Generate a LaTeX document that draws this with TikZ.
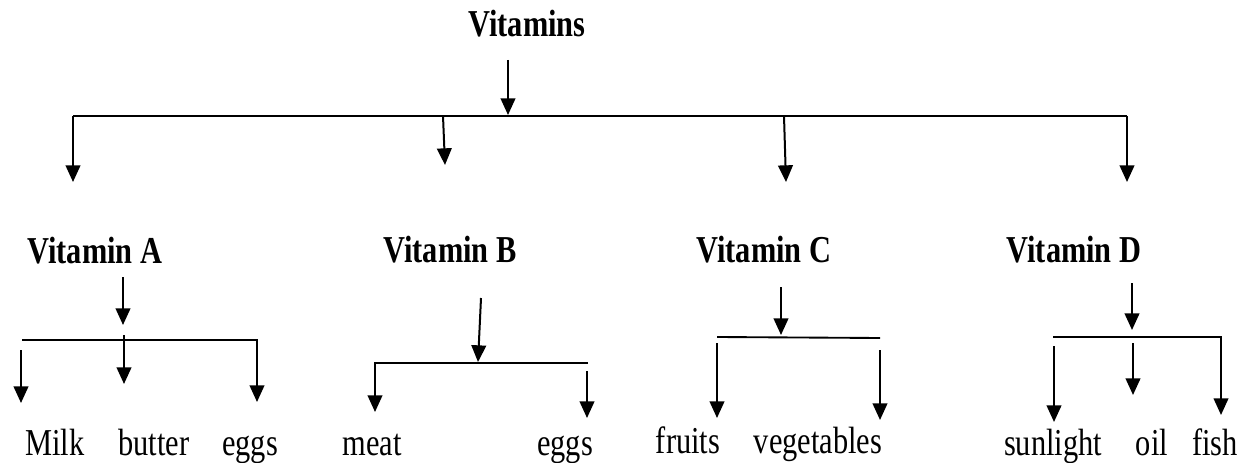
\documentclass[tikz,border=0pt]{standalone}
\usepackage{fontspec}
\setmainfont{Liberation Serif}
\usepackage{graphicx}
\usetikzlibrary{arrows.meta}
\newcommand{\sqz}[1]{\scalebox{0.8}[1]{#1}}
\begin{document}
\begin{tikzpicture}[x=0.75pt,y=-0.75pt,
  arr/.style={line width=1.5pt,-{Triangle[length=12.5pt,width=11pt]}},
  mainline/.style={line width=2.2pt},
  subline/.style={line width=1.4pt},
  headtxt/.style={inner sep=0pt,anchor=base,font=\fontsize{28.5}{30}\selectfont\bfseries},
  lab/.style={inner sep=0pt,anchor=base,font=\fontsize{28.5}{30}\selectfont}]
\useasboundingbox (0,0) rectangle (1251,463);
% texts
\node[headtxt] (vit) at (527,37) {\sqz{Vitamins}};
\node[headtxt] (va) at (95,263) {\sqz{Vitamin A}};
\node[headtxt] (vb) at (450,262) {\sqz{Vitamin B}};
\node[headtxt] (vc) at (764,262) {\sqz{Vitamin C}};
\node[headtxt] (vd) at (1074,262) {\sqz{Vitamin D}};
\node[lab] (milk) at (55,455) {\sqz{Milk}};
\node[lab] (butter) at (154,455) {\sqz{butter}};
\node[lab] (eggsA) at (250,455) {\sqz{eggs}};
\node[lab] (meat) at (372,455) {\sqz{meat}};
\node[lab] (eggsB) at (565,455) {\sqz{eggs}};
\node[lab] (fruits) at (688,453) {\sqz{fruits}};
\node[lab] (veg) at (818,453) {\sqz{vegetables}};
\node[lab] (sun) at (1053,455) {\sqz{sunlight}};
\node[lab] (oil) at (1152,455) {\sqz{oil}};
\node[lab] (fish) at (1215,455) {\sqz{fish}};
% top level
\coordinate (t0) at (508,60);
\coordinate (t1) at (508,115);
\coordinate (tl) at (73,116);
\coordinate (tr) at (1127,116);
\coordinate (jb) at (443,116);
\coordinate (jc) at (784,116);
\coordinate (ea) at (73,182);
\coordinate (eb) at (445,165);
\coordinate (ec) at (786,182);
\coordinate (ed) at (1127,182);
\draw[arr] (t0) -- (t1);
\draw[mainline] (tl) -- (tr);
\draw[arr] (tl) -- (ea);
\draw[arr] (jb) -- (eb);
\draw[arr] (jc) -- (ec);
\draw[arr] (tr) -- (ed);
% Vitamin A
\coordinate (a0) at (123,277);
\coordinate (a1) at (123,325);
\coordinate (al) at (22,340);
\coordinate (ar) at (257,340);
\coordinate (ar2) at (257,402);
\coordinate (am0) at (21,350);
\coordinate (am1) at (21,403);
\coordinate (ab0) at (124,335);
\coordinate (ab1) at (124,384);
\draw[arr] (a0) -- (a1);
\draw[subline,-{Triangle[length=12.5pt,width=11pt]}] (al) -- (ar) -- (ar2);
\draw[arr] (am0) -- (am1);
\draw[arr] (ab0) -- (ab1);
% Vitamin B
\coordinate (b0) at (481,298);
\coordinate (b1) at (478,362);
\coordinate (bl) at (375,363);
\coordinate (bl2) at (375,412);
\coordinate (br) at (588,363);
\coordinate (be0) at (587,371);
\coordinate (be1) at (587,418);
\draw[arr] (b0) -- (b1);
\draw[subline,-{Triangle[length=12.5pt,width=11pt]}] (br) -- (bl) -- (bl2);
\draw[arr] (be0) -- (be1);
% Vitamin C
\coordinate (c0) at (781,287);
\coordinate (c1) at (781,335);
\coordinate (cl) at (717,337);
\coordinate (cr) at (880,338);
\coordinate (cf0) at (717,343);
\coordinate (cf1) at (717,418);
\coordinate (cv0) at (880,350);
\coordinate (cv1) at (880,420);
\draw[arr] (c0) -- (c1);
\draw[subline] (cl) -- (cr);
\draw[arr] (cf0) -- (cf1);
\draw[arr] (cv0) -- (cv1);
% Vitamin D
\coordinate (d0) at (1132,283);
\coordinate (d1) at (1132,330);
\coordinate (dl) at (1053,337);
\coordinate (dr) at (1221,337);
\coordinate (dr2) at (1221,415);
\coordinate (ds0) at (1054,346);
\coordinate (ds1) at (1054,422);
\coordinate (do0) at (1133,343);
\coordinate (do1) at (1133,395);
\draw[arr] (d0) -- (d1);
\draw[subline,-{Triangle[length=12.5pt,width=11pt]}] (dl) -- (dr) -- (dr2);
\draw[arr] (ds0) -- (ds1);
\draw[arr] (do0) -- (do1);
\end{tikzpicture}
\end{document}
